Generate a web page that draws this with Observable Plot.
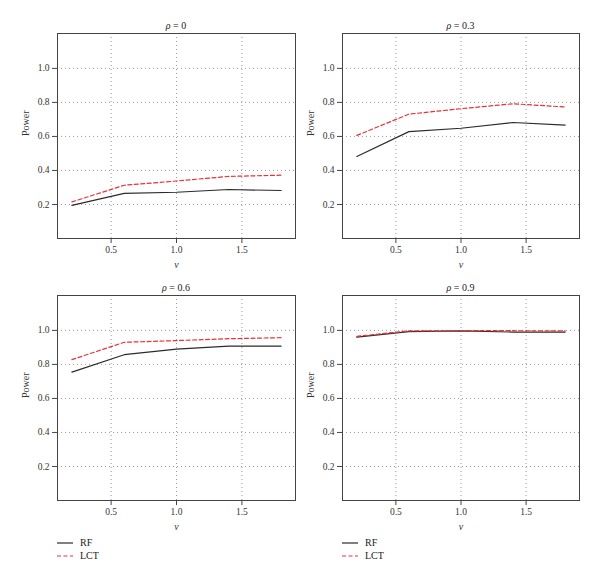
<!DOCTYPE html>
<html><head><meta charset="utf-8">
<script src="https://cdn.jsdelivr.net/npm/d3@7"></script>
<script src="https://cdn.jsdelivr.net/npm/@observablehq/plot@0.6"></script>
<style>
body{margin:0;background:#fff;}
#wrap{position:relative;width:600px;height:583px;font-family:"Liberation Serif",serif;color:#222;overflow:hidden;}
.panel{position:absolute;}
.title{position:absolute;font-size:10px;transform:translate(-50%,-50%);white-space:nowrap;}
.leg{position:absolute;font-size:10px;}
.leg .row{display:flex;align-items:center;height:13px;}
.leg svg{margin-right:7px;}
</style>
</head><body>
<div id="wrap"></div>
<script>
// ---- data ----
const nu = [0.2, 0.6, 1.0, 1.4, 1.8];
const rhoLabels = ["0", "0.3", "0.6", "0.9"];
const rf_rho0  = [0.195, 0.265, 0.272, 0.288, 0.282];
const lct_rho0 = [0.215, 0.313, 0.338, 0.365, 0.372];
const rf_rho03  = [0.482, 0.628, 0.648, 0.682, 0.667];
const lct_rho03 = [0.606, 0.731, 0.763, 0.792, 0.773];
const rf_rho06  = [0.755, 0.857, 0.890, 0.908, 0.908];
const lct_rho06 = [0.828, 0.930, 0.940, 0.951, 0.957];
const rf_rho09  = [0.960, 0.993, 0.997, 0.990, 0.990];
const lct_rho09 = [0.965, 0.997, 0.998, 0.998, 0.997];
const xTicks = [0.5, 1.0, 1.5];
const yTicks = [0.2, 0.4, 0.6, 0.8, 1.0];
const methods = ["RF", "LCT"];
const xLabel = "ν";
const yLabel = "Power";

const series = [[rf_rho0, lct_rho0], [rf_rho03, lct_rho03], [rf_rho06, lct_rho06], [rf_rho09, lct_rho09]];
const styles = {
  RF: {stroke: "#2b2b2b", dash: null},
  LCT: {stroke: "#e3343c", dash: "4,2.5"}
};

const wrap = document.getElementById("wrap");
// layout: [svg left, svg top, marginLeft, marginRight]
const layout = [
  [0, 0, 57, 5],
  [300, 0, 42, 21],
  [0, 262, 57, 5],
  [300, 262, 42, 21]
];

series.forEach(([rf, lct], k) => {
  const [left, top, ml, mr] = layout[k];
  const data = [];
  nu.forEach((x, i) => {
    data.push({nu: x, power: rf[i], method: "RF"});
    data.push({nu: x, power: lct[i], method: "LCT"});
  });
  const chart = Plot.plot({
    width: 300, height: 280,
    marginLeft: ml, marginRight: mr, marginTop: 33, marginBottom: 42,
    style: {fontFamily: "'Liberation Serif', serif", fontSize: "9.5px", color: "#333", background: "transparent"},
    x: {domain: [0.09, 1.91]},
    y: {domain: [0, 1.205]},
    marks: [
      Plot.gridX(xTicks, {stroke: "#999", strokeOpacity: 1, strokeDasharray: "1,3"}),
      Plot.gridY(yTicks, {stroke: "#999", strokeOpacity: 1, strokeDasharray: "1,3"}),
      ...methods.map(m => Plot.line(data.filter(d => d.method === m), {
        x: "nu", y: "power", stroke: styles[m].stroke, strokeWidth: 1.2,
        strokeDasharray: styles[m].dash
      })),
      Plot.frame({stroke: "#444", strokeWidth: 1}),
      Plot.axisX(xTicks, {tickFormat: d3.format(".1f"), tickSize: 5, tickPadding: 3, label: null, stroke: "#444"}),
      Plot.axisY(yTicks, {tickFormat: d3.format(".1f"), tickSize: 5, tickPadding: 3, label: null, stroke: "#444"}),
      Plot.text([xLabel], {text: d => d, frameAnchor: "bottom", dy: 29, fontStyle: "italic", fontSize: 10, fill: "#333"}),
      Plot.text([yLabel], {text: d => d, frameAnchor: "left", dx: -32, rotate: -90, fontSize: 10, fill: "#333"})
    ]
  });
  const div = document.createElement("div");
  div.className = "panel";
  div.style.left = left + "px";
  div.style.top = top + "px";
  div.appendChild(chart);
  wrap.appendChild(div);

  const frameCenter = left + ml + (300 - ml - mr) / 2;
  const t = document.createElement("div");
  t.className = "title";
  t.style.left = frameCenter + "px";
  t.style.top = (top + 25) + "px";
  t.innerHTML = "<i>ρ</i> = " + rhoLabels[k];
  wrap.appendChild(t);
});

// legends below the bottom panels
[[57, 536], [342, 536]].forEach(([lx, ly]) => {
  const leg = document.createElement("div");
  leg.className = "leg";
  leg.style.left = lx + "px";
  leg.style.top = ly + "px";
  methods.forEach(m => {
    const row = document.createElement("div");
    row.className = "row";
    row.innerHTML = `<svg width="16" height="4"><line x1="0" x2="16" y1="2" y2="2" stroke="${styles[m].stroke}" stroke-width="1.2" ${styles[m].dash ? `stroke-dasharray="${styles[m].dash}"` : ""}/></svg><span>${m}</span>`;
    leg.appendChild(row);
  });
  wrap.appendChild(leg);
});
</script>
</body></html>
